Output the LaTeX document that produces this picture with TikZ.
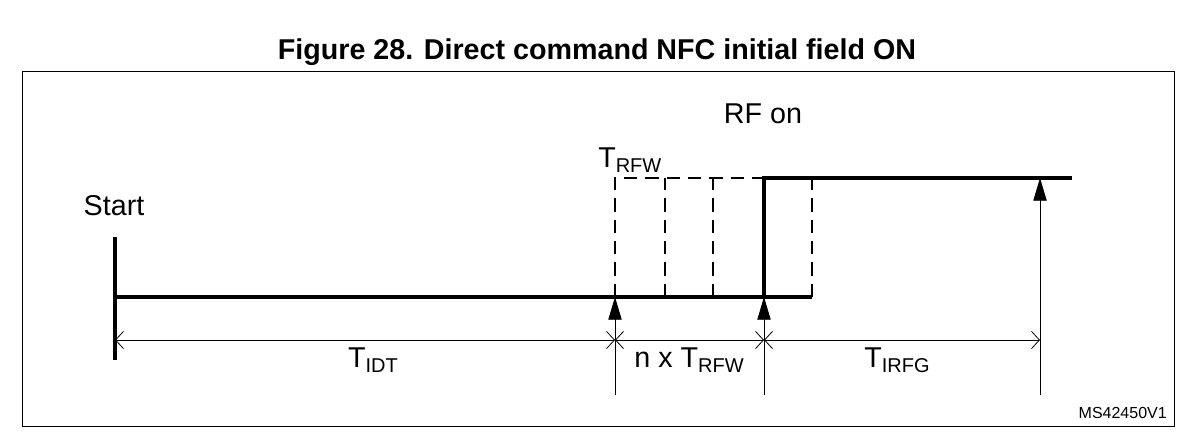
\documentclass[tikz,border=0pt]{standalone}
\usepackage{fontspec}
\setmainfont{Liberation Sans}
\usetikzlibrary{arrows.meta}
\newcommand{\sbs}[1]{\raisebox{-0.3ex}{\fontsize{15}{18}\selectfont #1}}
\begin{document}
\begin{tikzpicture}[x=0.75pt,y=-0.75pt,
  sig/.style={line width=3pt},
  dsh/.style={line width=2.2pt,dash pattern=on 10pt off 6pt},
  thin/.style={line width=0.6pt},
  up/.style={thin,-{Triangle[length=17pt,width=10pt]}},
  dim/.style={thin,{Straight Barb[length=6pt,width=13pt]}-{Straight Barb[length=6pt,width=13pt]}},
  lbl/.style={font=\fontsize{21.5}{24}\selectfont,inner sep=0pt}]
\useasboundingbox (0,0) rectangle (1185,441);
\draw[line width=0.6pt] (22,71) rectangle (1174,426);
\node[font=\bfseries\fontsize{21.5}{24}\selectfont] (title) at (597,52) {Figure 28. Direct command NFC initial field ON};
% coordinates
\coordinate (s0) at (115,237); \coordinate (s1) at (115,360);
\coordinate (b0) at (115,297); \coordinate (b1) at (812,297);
\coordinate (d1) at (615,297); \coordinate (d1t) at (615,178);
\coordinate (d2) at (665,297); \coordinate (d2t) at (665,178);
\coordinate (d3) at (713,297); \coordinate (d3t) at (713,178);
\coordinate (d4) at (812,297); \coordinate (d4t) at (812,178);
\coordinate (r0) at (764,297); \coordinate (r1) at (764,178); \coordinate (r2) at (1072,178);
\coordinate (a1) at (615,395); \coordinate (a2) at (764,395);
\coordinate (a3) at (1040,395); \coordinate (a3t) at (1040,178);
\coordinate (m0) at (115,340); \coordinate (m1) at (615,340);
\coordinate (m2) at (764,340); \coordinate (m3) at (1040,340);
% signal
\draw[sig] (s0) -- (s1);
\draw[sig] (b0) -- (b1);
\draw[sig] (r0) -- (r1) -- (r2);
\draw[dsh] (d1) -- (d1t) -- (r1);
\draw[dsh] (d2) -- (d2t);
\draw[dsh] (d3) -- (d3t);
\draw[dsh] (d4) -- (d4t);
% arrows
\draw[up] (a1) -- (d1);
\draw[up] (a2) -- (r0);
\draw[up] (a3) -- (a3t);
% dimensions
\draw[dim] (m0) -- (m1);
\draw[dim] (m1) -- (m2);
\draw[dim] (m2) -- (m3);
% labels
\node[lbl] (rfon) at (763,114) {RF on};
\node[lbl,anchor=west] (trfw) at (598,160) {T\sbs{RFW}};
\node[lbl] (start) at (114,206) {Start};
\node[lbl] (tidt) at (373,360) {T\sbs{IDT}};
\node[lbl] (ntrfw) at (689,360) {n x T\sbs{RFW}};
\node[lbl] (tirfg) at (897,360) {T\sbs{IRFG}};
\node[font=\fontsize{12}{14}\selectfont,anchor=east,inner sep=0pt] (ms) at (1167,413) {MS42450V1};
\end{tikzpicture}
\end{document}
